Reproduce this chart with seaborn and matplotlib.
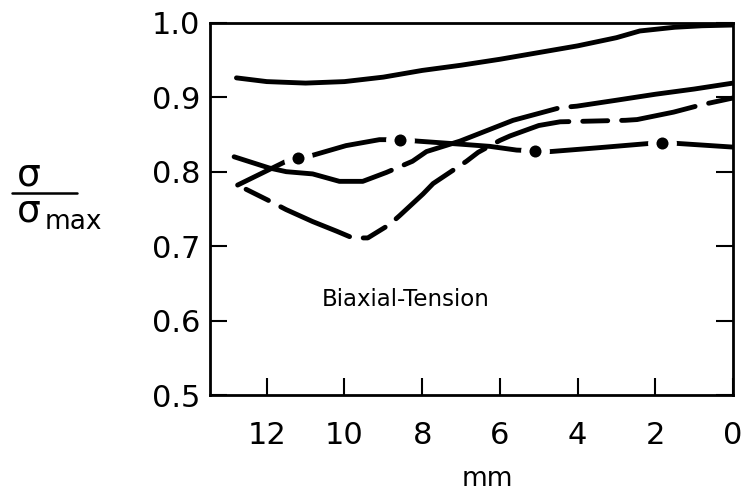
import matplotlib
matplotlib.use("Agg")
import matplotlib.pyplot as plt
import seaborn as sns
import pandas as pd

# ---- data ----
top_x = [12.78, 12.0, 11.0, 10.0, 9.0, 8.0, 7.0, 6.0, 5.0, 4.0, 3.0, 2.4, 1.5, 0.8, 0.0]
top_y = [0.926, 0.921, 0.919, 0.921, 0.927, 0.936, 0.943, 0.951, 0.960, 0.969, 0.980, 0.989, 0.994, 0.996, 0.997]

longdash_x = [12.84, 11.94, 11.5, 10.82, 10.13, 9.53, 8.92, 8.25, 7.89, 7.03, 5.66, 4.45, 4.02, 3.0, 2.0, 1.0, 0.0]
longdash_y = [0.820, 0.805, 0.800, 0.797, 0.787, 0.787, 0.799, 0.814, 0.827, 0.841, 0.869, 0.886, 0.888, 0.896, 0.904, 0.911, 0.919]

dip_x = [12.75, 11.98, 11.5, 10.82, 10.2, 9.79, 9.4, 8.84, 8.58, 7.98, 7.72, 6.86, 6.56, 6.0, 5.74, 5.0, 4.45, 3.6, 2.77, 2.47, 1.53, 0.8, 0.0]
dip_y = [0.782, 0.762, 0.749, 0.733, 0.720, 0.711, 0.711, 0.729, 0.741, 0.770, 0.784, 0.814, 0.826, 0.842, 0.848, 0.862, 0.867, 0.868, 0.869, 0.870, 0.880, 0.890, 0.899]

dashdot_x = [12.75, 11.5, 11.2, 10.82, 9.96, 9.1, 8.57, 8.11, 7.03, 6.26, 5.57, 5.1, 4.7, 3.5, 2.13, 1.83, 1.45, 0.0]
dashdot_y = [0.782, 0.814, 0.819, 0.822, 0.835, 0.843, 0.843, 0.841, 0.837, 0.834, 0.829, 0.828, 0.827, 0.832, 0.838, 0.838, 0.838, 0.833]

dot_x = [11.2, 8.57, 5.1, 1.83]
dot_y = [0.819, 0.843, 0.828, 0.838]

x_ticks = [12, 10, 8, 6, 4, 2, 0]
x_ticklabels = ["12", "10", "8", "6", "4", "2", "0"]
y_ticks = [0.5, 0.6, 0.7, 0.8, 0.9, 1.0]
y_ticklabels = ["0.5", "0.6", "0.7", "0.8", "0.9", "1.0"]

sns.set_style("ticks")
plt.rcParams["font.family"] = ["DejaVu Sans"]
plt.rcParams["lines.scale_dashes"] = False
for key in ["text.color", "axes.labelcolor", "xtick.color", "ytick.color", "axes.edgecolor"]:
    plt.rcParams[key] = "black"

fig = plt.figure(figsize=(7.44, 5.03), dpi=100)
ax = fig.add_axes([0.2823, 0.2147, 0.703, 0.740])

LW = 3.5
df_top = pd.DataFrame({"x": top_x, "y": top_y})
df_ld = pd.DataFrame({"x": longdash_x, "y": longdash_y})
df_dip = pd.DataFrame({"x": dip_x, "y": dip_y})
df_dd = pd.DataFrame({"x": dashdot_x, "y": dashdot_y})
df_dot = pd.DataFrame({"x": dot_x, "y": dot_y})

sns.lineplot(data=df_dd, x="x", y="y", ax=ax, color="black", lw=LW, estimator=None, zorder=2)
sns.scatterplot(data=df_dot, x="x", y="y", ax=ax, color="white", s=430, linewidth=0, zorder=2.1)
sns.scatterplot(data=df_dot, x="x", y="y", ax=ax, color="black", s=75, linewidth=0, zorder=2.2)

sns.lineplot(data=df_top, x="x", y="y", ax=ax, color="black", lw=LW, estimator=None, zorder=3)
sns.lineplot(data=df_ld, x="x", y="y", ax=ax, color="black", lw=LW, estimator=None, zorder=3)
ax.lines[-1].set_linestyle((0, (118, 10)))
sns.lineplot(data=df_dip, x="x", y="y", ax=ax, color="black", lw=LW, estimator=None, zorder=3)
ax.lines[-1].set_linestyle((64, (54, 10, 18, 10)))
for ln in ax.lines:
    ln.set_solid_capstyle("round")
    ln.set_dash_capstyle("round")

ax.set_xlim(13.46, 0)
ax.set_ylim(0.5, 1.0)
ax.set_xticks(x_ticks)
ax.set_xticklabels(x_ticklabels)
ax.set_yticks(y_ticks)
ax.set_yticklabels(y_ticklabels)
ax.set_xlabel("")
ax.set_ylabel("")

for sp in ax.spines.values():
    sp.set_visible(True)
    sp.set_linewidth(2)
    sp.set_color("black")

ax.tick_params(axis="x", direction="in", length=12, width=1.5, labelsize=22, pad=19, top=False,
               colors="black")
ax.tick_params(axis="y", direction="in", length=12, width=1.5, labelsize=22, pad=7, right=True,
               colors="black")

ax.text(8.43, 0.628, "Biaxial-Tension", fontsize=16.5, ha="center", va="center", color="black")

fig.text(487 / 744, 1 - 479 / 503, "mm", fontsize=19, ha="center", va="center", color="black")

# y label as a stacked fraction: sigma over sigma_max
fig.text(29 / 744, 1 - 176 / 503, "σ", fontsize=27, ha="center", va="center", color="black")
fig.add_artist(plt.Line2D([12 / 744, 77 / 744], [1 - 193 / 503, 1 - 193 / 503],
                          transform=fig.transFigure, color="black", lw=1.8))
fig.text(17 / 744, 1 - 212 / 503, "σ", fontsize=27, ha="left", va="center", color="black")
fig.text(45 / 744, 1 - 222 / 503, "max", fontsize=19, ha="left", va="center", color="black")

fig.savefig("out.png", dpi=100)
